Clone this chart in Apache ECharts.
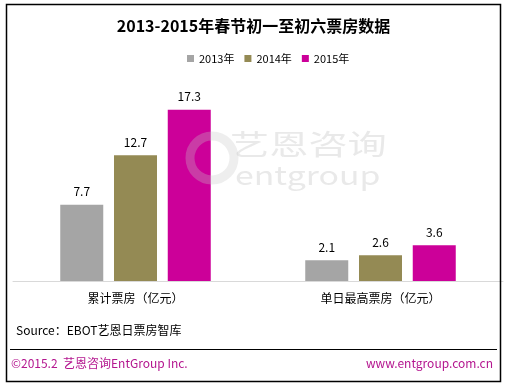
<!DOCTYPE html>
<html><head><meta charset="utf-8">
<script src="https://cdn.jsdelivr.net/npm/echarts@6/dist/echarts.min.js"></script>
<style>html,body{margin:0;padding:0;background:#fff;}#c{width:507px;height:386px;}</style>
</head><body><div id="c"></div>
<script>
var categories = ['累计票房（亿元）', '单日最高票房（亿元）'];
var seriesNames = ['2013年', '2014年', '2015年'];
var values2013 = [7.7, 2.1];
var values2014 = [12.7, 2.6];
var values2015 = [17.3, 3.6];
var colors = ['#A5A5A5', '#948A54', '#CC0099'];
var FONT = '"Microsoft YaHei","Noto Sans CJK SC",sans-serif';

var chart = echarts.init(document.getElementById('c'), null, {renderer: 'canvas'});
var data = [values2013, values2014, values2015];
var series = seriesNames.map(function (n, i) {
  return {
    name: n, type: 'bar', data: data[i], barWidth: 43, barGap: '25%',
    itemStyle: {color: colors[i]},
    label: {show: true, position: 'top', distance: 7, color: '#000', fontSize: 12, fontFamily: FONT},
    z: 2
  };
});
chart.setOption({
  backgroundColor: '#fff',
  animation: false,
  title: {text: '2013-2015年春节初一至初六票房数据', left: 'center', top: 13,
    textStyle: {fontSize: 16, fontWeight: 'bold', color: '#000', fontFamily: FONT}},
  legend: {data: seriesNames, left: 182, top: 48, icon: 'rect', itemWidth: 7, itemHeight: 7, itemGap: 10,
    textStyle: {fontSize: 11, color: '#000', fontFamily: FONT}},
  grid: {left: 13, width: 490, top: 83, bottom: 105},
  xAxis: {type: 'category', data: categories,
    axisLine: {lineStyle: {color: '#D9D9D9', width: 1}}, axisTick: {show: false},
    axisLabel: {color: '#000', fontSize: 12, margin: 11, fontFamily: FONT}},
  yAxis: {type: 'value', min: 0, max: 20, show: false, splitLine: {show: false}},
  series: series,
  graphic: [
    {type: 'rect', shape: {x: 6.5, y: 4.5, width: 494, height: 377}, style: {fill: 'none', stroke: '#000', lineWidth: 1.5}, z: 10},
    {type: 'line', shape: {x1: 10, y1: 349.5, x2: 497, y2: 349.5}, style: {stroke: '#000', lineWidth: 1}, z: 10},
    {type: 'text', left: 16, top: 324, style: {text: 'Source：EBOT艺恩日票房智库', fontSize: 12, fill: '#000', fontFamily: FONT}, z: 10},
    {type: 'text', left: 11, top: 357, style: {text: '©2015.2  艺恩咨询EntGroup Inc.', fontSize: 12, fill: '#B4168F', fontFamily: FONT}, z: 10},
    {type: 'text', right: 14, top: 357, style: {text: 'www.entgroup.com.cn', fontSize: 12, fill: '#B4168F', fontFamily: FONT}, z: 10},
    {type: 'circle', shape: {cx: 212, cy: 158, r: 22}, style: {fill: 'none', stroke: 'rgba(200,200,200,0.3)', lineWidth: 9}, z: 5},
    {type: 'text', x: 230, y: 130, scaleX: 1.4, style: {text: '艺恩咨询', fontSize: 28, fill: 'rgba(200,200,200,0.4)', fontFamily: FONT}, z: 5},
    {type: 'text', x: 235, y: 162, scaleX: 1.3, style: {text: 'entgroup', fontSize: 26, fill: 'rgba(200,200,200,0.4)', fontFamily: FONT}, z: 5}
  ]
});
</script></body></html>
